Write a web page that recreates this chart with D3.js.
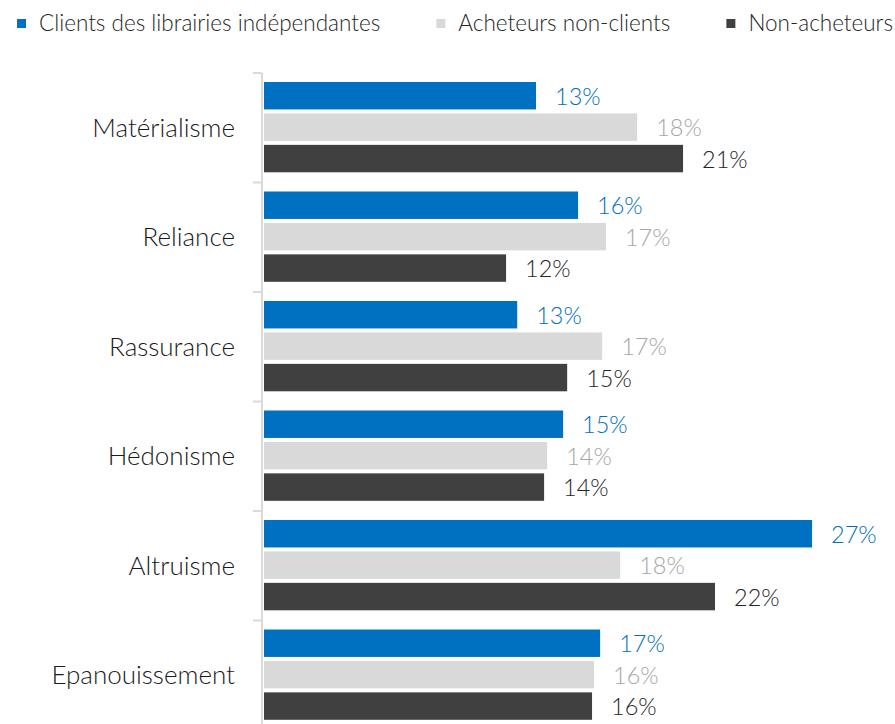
<!DOCTYPE html>
<html>
<head>
<meta charset="utf-8">
<script src="https://cdn.jsdelivr.net/npm/d3@7"></script>
<style>
  body { margin: 0; background: #fff; }
  svg { display: block; font-family: "Lato", "DejaVu Sans", sans-serif; }
</style>
</head>
<body>
<div class="chart"></div>
<script>
// categories (top to bottom)
var categories = ["Matérialisme", "Reliance", "Rassurance", "Hédonisme", "Altruisme", "Epanouissement"];

// series names
var seriesNames = ["Clients des librairies indépendantes", "Acheteurs non-clients", "Non-acheteurs"];

// values in % (labels show rounded values)
var clients     = [13.45, 15.53, 12.52, 14.79, 27.10, 16.62];
var nonClients  = [18.45, 16.91, 16.72, 14.00, 17.61, 16.32];
var nonAcheteurs = [20.72, 11.97, 14.99, 13.85, 22.30, 16.22];

var seriesValues = [clients, nonClients, nonAcheteurs];
var barColors = ["#0070C0", "#D9D9D9", "#404040"];
var labelColors = ["#0070C0", "#A6A6A6", "#262626"];

var width = 895,
    height = 724,
    margin = {top: 73, right: 0, bottom: -6, left: 264};

var svg = d3.select("div.chart").append("svg")
    .attr("width", width)
    .attr("height", height);

var data = [];
categories.forEach(function(c, i) {
  seriesNames.forEach(function(s, j) {
    data.push({cat: c, series: s, idx: j, value: seriesValues[j][i]});
  });
});

var x = d3.scaleLinear()
    .domain([0, 31.2])
    .range([margin.left, width]);

var y0 = d3.scaleBand()
    .domain(categories)
    .range([margin.top, height - margin.bottom]);

var y1 = d3.scaleBand()
    .domain(seriesNames)
    .range([9, y0.step() - 10.2])
    .paddingInner(0.127);

// axis
var axis = svg.append("g")
    .attr("transform", "translate(" + (margin.left - 2) + ",0)");

axis.append("line")
    .attr("y1", margin.top)
    .attr("y2", height)
    .attr("stroke", "#D9D9D9")
    .attr("stroke-width", 2);

axis.selectAll(".tick")
    .data(categories.concat(["end"]))
  .enter().append("line")
    .attr("class", "tick")
    .attr("x1", -9)
    .attr("x2", 0)
    .attr("y1", function(d, i) { return margin.top + i * y0.step(); })
    .attr("y2", function(d, i) { return margin.top + i * y0.step(); })
    .attr("stroke", "#D9D9D9")
    .attr("stroke-width", 2);

// category labels
svg.selectAll(".cat")
    .data(categories)
  .enter().append("text")
    .attr("class", "cat")
    .attr("x", margin.left - 29)
    .attr("y", function(d) { return y0(d) + y0.step() / 2; })
    .attr("dy", "0.35em")
    .attr("text-anchor", "end")
    .attr("font-size", 26)
    .attr("font-weight", 300)
    .attr("fill", "#1a1a1a")
    .text(function(d) { return d; });

// bars
svg.selectAll(".bar")
    .data(data)
  .enter().append("rect")
    .attr("class", "bar")
    .attr("x", x(0))
    .attr("y", function(d) { return y0(d.cat) + y1(d.series); })
    .attr("width", function(d) { return x(d.value) - x(0); })
    .attr("height", y1.bandwidth())
    .attr("fill", function(d) { return barColors[d.idx]; });

// value labels
svg.selectAll(".val")
    .data(data)
  .enter().append("text")
    .attr("class", "val")
    .attr("x", function(d) { return x(d.value) + 19; })
    .attr("y", function(d) { return y0(d.cat) + y1(d.series) + y1.bandwidth() / 2; })
    .attr("dy", "0.38em")
    .attr("font-size", 23.5)
    .attr("font-weight", 300)
    .attr("fill", function(d) { return labelColors[d.idx]; })
    .text(function(d) { return Math.round(d.value) + "%"; });

// legend
var legend = svg.append("g").attr("class", "legend");
var items = seriesNames.map(function(s, j) {
  var item = legend.append("g");
  item.append("rect")
      .attr("x", 0)
      .attr("y", 19)
      .attr("width", 9)
      .attr("height", 9)
      .attr("fill", barColors[j]);
  var t = item.append("text")
      .attr("x", 22)
      .attr("y", 31)
      .attr("font-size", 22.5)
      .attr("font-weight", 300)
      .attr("fill", "#262626")
      .text(s);
  return {g: item, w: 22 + t.node().getComputedTextLength()};
});
var used = d3.sum(items, function(d) { return d.w; });
var gap = (width - 2 - 17 - used) / (items.length - 1);
var lx = 17;
items.forEach(function(d) {
  d.g.attr("transform", "translate(" + lx + ",0)");
  lx += d.w + gap;
});
</script>
</body>
</html>
